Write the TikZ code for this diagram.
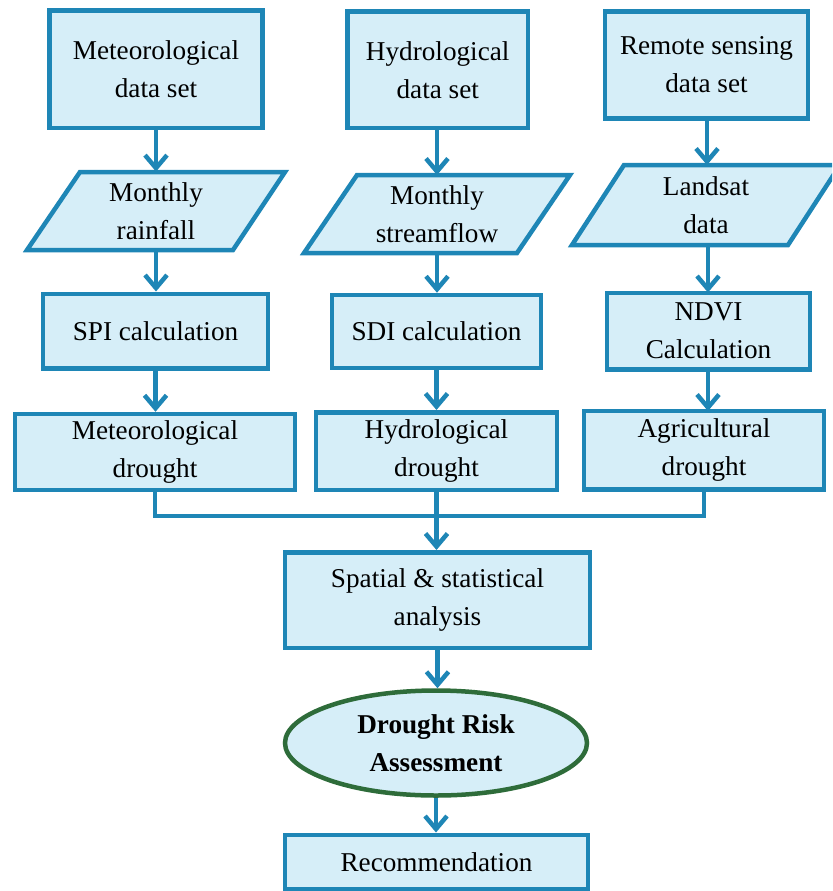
\documentclass[tikz,border=0pt]{standalone}
\usepackage{fontspec}
\setmainfont{Liberation Serif}
\usetikzlibrary{arrows.meta,shapes.geometric}
\definecolor{bord}{RGB}{30,134,182}
\definecolor{fillb}{RGB}{214,238,248}
\definecolor{grn}{RGB}{46,108,58}
\begin{document}
\begin{tikzpicture}[x=0.5pt,y=-0.5pt,
  lbl/.style={inner sep=0pt, align=center, font=\fontsize{13.6}{19}\selectfont},
  box/.style={lbl, draw=bord, fill=fillb, line width=2.25pt},
  para/.style={draw=bord, fill=fillb, line width=2.25pt, line join=miter},
  conn/.style={draw=bord, line width=2.25pt},
  arr/.style={conn, -{Straight Barb[length=6.5pt,width=11pt]}}]
\useasboundingbox (0,0) rectangle (832,891);
\clip (0,0) rectangle (832,891);

% top row
\node[box, minimum width=106.5pt, minimum height=58.75pt] (b1) at (156,69) {Meteorological\\data set};
\node[box, minimum width=90.25pt, minimum height=58.25pt] (b2) at (437.75,69.75) {Hydrological\\data set};
\node[box, minimum width=101.5pt, minimum height=53.5pt] (b3) at (706.5,65) {Remote sensing\\data set};

% parallelograms
\path[para] (80,172) -- (285,172) -- (233,250) -- (27,250) -- cycle;
\path[para] (357,175) -- (570,175) -- (517,253) -- (304,253) -- cycle;
\path[para] (624,165) -- (840,165) -- (788,245) -- (572,245) -- cycle;
\node[lbl, minimum width=75pt, minimum height=39pt] (p1) at (156,211) {Monthly\\rainfall};
\node[lbl, minimum width=75pt, minimum height=39pt] (p2) at (437,214) {Monthly\\streamflow};
\node[lbl, minimum width=75pt, minimum height=40pt] (p3) at (706,205) {Landsat\\data};

% calculation row
\node[box, minimum width=112.5pt, minimum height=37.25pt] (c1) at (155.5,331) {SPI calculation};
\node[box, minimum width=104.5pt, minimum height=36.5pt] (c2) at (436.5,331.5) {SDI calculation};
\node[box, minimum width=101.5pt, minimum height=38.25pt] (c3) at (708.5,331) {NDVI\\Calculation};

% drought row
\node[box, minimum width=140pt, minimum height=38pt] (d1) at (155,452) {Meteorological\\drought};
\node[box, minimum width=120.5pt, minimum height=38.75pt] (d2) at (436.5,451) {Hydrological\\drought};
\node[box, minimum width=120pt, minimum height=39.25pt] (d3) at (704,450) {Agricultural\\drought};

% bottom
\node[box, minimum width=152.5pt, minimum height=47.75pt] (sa) at (437.5,600) {Spatial \& statistical\\analysis};
\node[box, ellipse, draw=grn, minimum width=151pt, minimum height=52.5pt, font=\fontsize{13.6}{19}\selectfont\bfseries] (ra) at (436,743) {Drought Risk\\Assessment};
\node[box, minimum width=151.5pt, minimum height=27.25pt] (rc) at (436.5,862) {Recommendation};

% arrows column 1
\draw[arr] (b1.south) -- (b1.south |- p1.north);
\draw[arr] (p1.south) -- (p1.south |- c1.north);
\draw[arr] (c1.south) -- (c1.south |- d1.north);
% column 2
\draw[arr] (437,128) -- (437,175);
\draw[arr] (p2.south) -- (p2.south |- c2.north);
\draw[arr] (c2.south) -- (c2.south |- d2.north);
% column 3
\draw[arr] (707,118.5) -- (707,165);
\draw[arr] (708,245) -- (708,292.5);
\draw[arr] (708,369) -- (708,411);

% bus
\coordinate (busy) at (0,516);
\draw[conn, line join=miter] (d1.south) -- (d1.south |- busy) -- (d3.south |- busy) -- (d3.south);
\draw[arr] (d2.south) -- (d2.south |- sa.north);
\draw[arr] (sa.south) -- (sa.south |- ra.north);
\draw[arr] (ra.south) -- (ra.south |- rc.north);
\end{tikzpicture}
\end{document}
